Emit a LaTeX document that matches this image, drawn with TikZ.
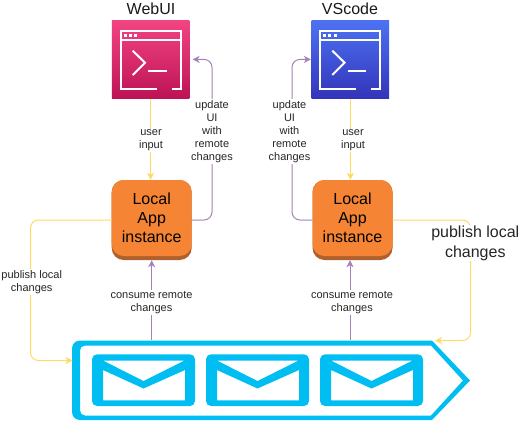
\documentclass[tikz,border=0pt]{standalone}
\usepackage{fontspec}
\usepackage{xcolor}
\usepackage{tikz}
\usetikzlibrary{arrows.meta}
\setmainfont{Liberation Sans}
\definecolor{busblue}{HTML}{00BEF2}
\definecolor{pubyellow}{HTML}{FFD966}
\definecolor{updpurple}{HTML}{A680B8}
\definecolor{apporange}{HTML}{F58534}
\definecolor{appdark}{HTML}{B0602C}
\definecolor{webtop}{RGB}{243, 68, 130}
\definecolor{webbottom}{RGB}{188, 19, 86}
\definecolor{vstop}{RGB}{77, 114, 243}
\definecolor{vsbottom}{RGB}{51, 52, 185}
\tikzset{
    termicon/.pic={
        \draw[white, line width=2pt] (44.7,69) -- (8.5,69) -- (8.5,10.7) -- (68.7,10.7) -- (68.7,69) -- (59.7,69);
        \draw[white, line width=2pt] (8.5,20) -- (68.7,20);
        \fill[white] (11.7,14) rectangle (14.7,17);
        \fill[white] (16.7,14) rectangle (19.7,17);
        \fill[white] (22,14) rectangle (25,17);
        \draw[white, line width=2pt] (20.7,30.7) -- (33,42.7) -- (20.7,55);
        \draw[white, line width=2pt] (36.3,50.7) -- (54.7,50.7);
    },
    mailicon/.pic={
        \fill[busblue, even odd rule]
            [rounded corners=5pt] (0,0) rectangle (103,51.7)
            [sharp corners] (11.3,6.4) -- (92.3,6.4) -- (51.5,26.7) -- cycle
            (11,15.7) -- (51.5,34.2) -- (93,15.7) -- (93,46) -- (11,46) -- cycle;
    }
}
\begin{document}
\begin{tikzpicture}[x=1pt, y=-1pt,
    termbox/.style={inner sep=0pt, minimum width=77.6pt, minimum height=78.4pt},
    appbox/.style={fill=apporange, rounded corners=12pt, inner sep=0pt, minimum width=80pt, minimum height=76pt,
        align=center, font=\fontsize{16}{19}\selectfont},
    appbase/.style={fill=appdark, rounded corners=12pt, inner sep=0pt, minimum width=80pt, minimum height=80pt},
    title/.style={font=\fontsize{16}{19}\selectfont, text=black!90},
    smalltext/.style={fill=white, inner sep=1pt, align=center, text=black!85, font=\fontsize{11}{13}\selectfont},
    bigtext/.style={fill=white, inner sep=1pt, align=center, text=black!85, font=\fontsize{16}{20}\selectfont},
    publine/.style={pubyellow, line width=1pt, rounded corners=8pt, -{Stealth[length=7pt, width=7pt, inset=2pt]}},
    updline/.style={updpurple, line width=1pt, rounded corners=8pt, -{Stealth[length=7pt, width=7pt, inset=2pt]}}]
    \useasboundingbox (0,0) rectangle (519,421);

    % clients
    \node[termbox, top color=webtop, bottom color=webbottom] (webui) at (150.6,59.4) {};
    \node[termbox, top color=vstop, bottom color=vsbottom] (vscode) at (350.4,59.4) {};
    \pic at (112,20) {termicon};
    \pic at (311.6,20) {termicon};
    \node[title] (webuititle) at (151,9) {WebUI};
    \node[title] (vscodetitle) at (350,9) {VScode};

    % local instances
    \node[appbase] (appLbase) at (151.7,220) {};
    \node[appbox] (appL) at (151.7,218) {Local\\App\\instance};
    \node[appbase] (appRbase) at (352.5,220) {};
    \node[appbox] (appR) at (352.5,218) {Local\\App\\instance};

    % message bus
    \fill[busblue, even odd rule] (432,340.5) [rounded corners=8pt] -- (72,340.5) -- (72,420) -- (100,420)
        [sharp corners] -- (432,420) -- (470,380.5) -- cycle
        (431,345.5) [rounded corners=5pt] -- (80,345.5) -- (80,415.5) -- (100,415.5)
        [sharp corners] -- (431,415.5) -- (463,380.5) -- cycle;
    \pic at (92,354.3) {mailicon};
    \pic at (206,354.3) {mailicon};
    \pic at (320,354.3) {mailicon};
    \coordinate (busW) at (72.5,360.5);
    \coordinate (busNE) at (435,340.5);
    \coordinate (busL) at (151.7,340);
    \coordinate (busR) at (350,340);

    % connectors
    \draw[publine] (webui.south) -- (webui.south |- appL.north);
    \draw[publine] (vscode.south) -- (vscode.south |- appR.north);
    \draw[updline, shorten >=3pt] (appLbase.east) -- (212,220) -- (212,59.4) -- (webui.east);
    \draw[updline, shorten >=0.5pt] (appRbase.west) -- (292,220) -- (292,59.4) -- (vscode.west);
    \draw[updline] (busL) -- (appLbase.south);
    \draw[updline] (busR) -- (busR |- appRbase.south);
    \draw[publine] (appLbase.west) -- (30.5,220) -- (30.5,360.5) -- (busW);
    \draw[publine] (appRbase.east) -- (470.5,220) -- (470.5,340.5) -- (busNE);

    % labels
    \node[smalltext] (inputL) at (151,140.5) {user\\input};
    \node[smalltext] (inputR) at (353,140.5) {user\\input};
    \node[smalltext] (updateL) at (212,131.5) {update\\UI\\with\\remote\\changes};
    \node[smalltext] (updateR) at (289.5,131.5) {update\\UI\\with\\remote\\changes};
    \node[smalltext] (consumeL) at (151.5,302.5) {consume remote\\changes};
    \node[smalltext] (consumeR) at (352,302.5) {consume remote\\changes};
    \node[smalltext] (publishL) at (31.7,282) {publish local\\changes};
    \node[bigtext] (publishR) at (475.3,243) {publish local\\changes};
\end{tikzpicture}
\end{document}
